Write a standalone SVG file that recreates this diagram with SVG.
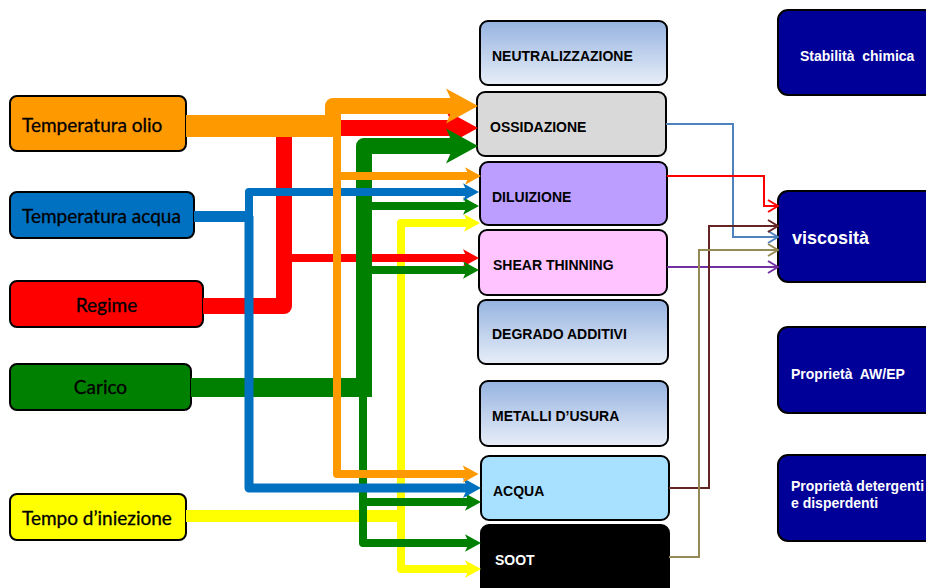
<svg xmlns="http://www.w3.org/2000/svg" width="926" height="588" viewBox="0 0 926 588">
<defs>
<linearGradient id="gBlue" x1="0" y1="0" x2="0" y2="1"><stop offset="0" stop-color="#95B3E0"/><stop offset="1" stop-color="#E8EEF8"/></linearGradient>
<marker id="aO" viewBox="0 -1.1 2 2.2" refX="0.6" refY="0" markerWidth="2" markerHeight="2.2" markerUnits="strokeWidth" orient="auto"><path d="M0,-1.1 L2,0 L0,1.1 L0.5,0 Z" fill="#FF9900"/></marker>
<marker id="aR" viewBox="0 -1.1 2 2.2" refX="0.6" refY="0" markerWidth="2" markerHeight="2.2" markerUnits="strokeWidth" orient="auto"><path d="M0,-1.1 L2,0 L0,1.1 L0.5,0 Z" fill="#FF0000"/></marker>
<marker id="aG" viewBox="0 -1.1 2 2.2" refX="0.6" refY="0" markerWidth="2" markerHeight="2.2" markerUnits="strokeWidth" orient="auto"><path d="M0,-1.1 L2,0 L0,1.1 L0.5,0 Z" fill="#008000"/></marker>
<marker id="aB" viewBox="0 -1.1 2 2.2" refX="0.6" refY="0" markerWidth="2" markerHeight="2.2" markerUnits="strokeWidth" orient="auto"><path d="M0,-1.1 L2,0 L0,1.1 L0.5,0 Z" fill="#0070C0"/></marker>
<marker id="aY" viewBox="0 -1.1 2 2.2" refX="0.6" refY="0" markerWidth="2" markerHeight="2.2" markerUnits="strokeWidth" orient="auto"><path d="M0,-1.1 L2,0 L0,1.1 L0.5,0 Z" fill="#FFFF00"/></marker>
<marker id="tB" viewBox="0 0 12 14" refX="11" refY="7" markerWidth="12" markerHeight="14" markerUnits="userSpaceOnUse" orient="auto"><path d="M1,1 L11,7 L1,13" fill="none" stroke="#4F81BD" stroke-width="2"/></marker>
<marker id="tR" viewBox="0 0 12 14" refX="11" refY="7" markerWidth="12" markerHeight="14" markerUnits="userSpaceOnUse" orient="auto"><path d="M1,1 L11,7 L1,13" fill="none" stroke="#FF0000" stroke-width="2"/></marker>
<marker id="tP" viewBox="0 0 12 14" refX="11" refY="7" markerWidth="12" markerHeight="14" markerUnits="userSpaceOnUse" orient="auto"><path d="M1,1 L11,7 L1,13" fill="none" stroke="#7030A0" stroke-width="2"/></marker>
<marker id="tM" viewBox="0 0 12 14" refX="11" refY="7" markerWidth="12" markerHeight="14" markerUnits="userSpaceOnUse" orient="auto"><path d="M1,1 L11,7 L1,13" fill="none" stroke="#632523" stroke-width="2"/></marker>
<marker id="tK" viewBox="0 0 12 14" refX="11" refY="7" markerWidth="12" markerHeight="14" markerUnits="userSpaceOnUse" orient="auto"><path d="M1,1 L11,7 L1,13" fill="none" stroke="#948A54" stroke-width="2"/></marker>
<style>
text{white-space:pre}
.src rect{stroke:#000;stroke-width:2}
.src text{font-family:Lato,"Open Sans",sans-serif;font-size:19px;fill:#000;stroke:#000;stroke-width:0.3}
.mid rect{stroke:#000;stroke-width:2}
.mid text{font-family:"Liberation Sans",Arial,sans-serif;font-weight:bold;font-size:14px;fill:#000}
.out rect{fill:#000099;stroke:#000;stroke-width:2}
.out text{font-family:"Liberation Sans",Arial,sans-serif;font-weight:bold;font-size:14px;fill:#fff}
.thick{fill:none;stroke-linejoin:round}
.thin{fill:none;stroke-width:2}
.o{stroke:#FF9900}.r{stroke:#FF0000}.g{stroke:#008000}.b{stroke:#0070C0}.y{stroke:#FFFF00}
</style>
</defs>

<g id="n-temp-olio" class="src"><rect x="10" y="96" width="176" height="55" rx="7" fill="#FF9900"/><text x="22" y="132">Temperatura olio</text></g>
<g id="n-temp-acqua" class="src"><rect x="10" y="192" width="184" height="46" rx="7" fill="#0070C0"/><text x="22" y="223">Temperatura acqua</text></g>
<g id="n-regime" class="src"><rect x="10" y="281" width="193" height="46" rx="7" fill="#FF0000"/><text x="106.5" y="312" text-anchor="middle">Regime</text></g>
<g id="n-carico" class="src"><rect x="10" y="364" width="181" height="46" rx="7" fill="#008000"/><text x="100.5" y="394" text-anchor="middle">Carico</text></g>
<g id="n-tempo" class="src"><rect x="10" y="494" width="176" height="46" rx="7" fill="#FFFF00"/><text x="22" y="525">Tempo d’iniezione</text></g>

<g id="n-neutral" class="mid"><rect x="480" y="21" width="187" height="64" rx="8" fill="url(#gBlue)"/><text x="492" y="61">NEUTRALIZZAZIONE</text></g>
<g id="n-ossid" class="mid"><rect x="477" y="92" width="189" height="64" rx="8" fill="#D9D9D9"/><text x="490" y="132">OSSIDAZIONE</text></g>
<g id="n-diluiz" class="mid"><rect x="480" y="162" width="187" height="63" rx="8" fill="#BB9EFF"/><text x="492" y="202">DILUIZIONE</text></g>
<g id="n-shear" class="mid"><rect x="479" y="230" width="188" height="65" rx="8" fill="#FFC4FF"/><text x="493" y="270">SHEAR THINNING</text></g>
<g id="n-degrado" class="mid"><rect x="478" y="300" width="190" height="64" rx="8" fill="url(#gBlue)"/><text x="492" y="339">DEGRADO ADDITIVI</text></g>
<g id="n-metalli" class="mid"><rect x="480" y="381" width="188" height="65" rx="8" fill="url(#gBlue)"/><text x="492" y="421">METALLI D’USURA</text></g>
<g id="n-acqua" class="mid"><rect x="481" y="456" width="188" height="64" rx="8" fill="#A8E0FF"/><text x="493" y="496">ACQUA</text></g>
<g id="n-soot" class="mid"><rect x="481" y="525" width="188" height="70" rx="8" fill="#000"/><text x="495" y="565" style="fill:#fff">SOOT</text></g>

<g id="n-stabilita" class="out"><rect x="778" y="10" width="160" height="85" rx="10"/><text x="800" y="61">Stabilità  chimica</text></g>
<g id="n-viscosita" class="out"><rect x="778" y="191" width="160" height="91" rx="10"/><text x="792" y="244" style="font-size:18px">viscosità</text></g>
<g id="n-awep" class="out"><rect x="778" y="327" width="160" height="86" rx="10"/><text x="791" y="379">Proprietà  AW/EP</text></g>
<g id="n-deterg" class="out"><rect x="778" y="455" width="160" height="86" rx="10"/><text x="791" y="491">Proprietà detergenti</text><text x="791" y="508">e disperdenti</text></g>

<g id="connectors">
<path class="thick y" d="M186,516 H405" stroke-width="12"/>
<path class="thick y" d="M401,516 V223 H468.8" stroke-width="8" marker-end="url(#aY)"/>
<path class="thick y" d="M401,516 V569 H469.8" stroke-width="8" marker-end="url(#aY)"/>
<path class="thick r" d="M203,306 H284 V128 H455.6" stroke-width="16" marker-end="url(#aR)"/>
<path class="thick r" d="M284,258 H467.8" stroke-width="8" marker-end="url(#aR)"/>
<path class="thick g" d="M191,387.5 H372" stroke-width="19"/>
<path class="thick g" d="M364,394 V146 H455.6" stroke-width="16" marker-end="url(#aG)"/>
<path class="thick g" d="M364,206 H467.8" stroke-width="8" marker-end="url(#aG)"/>
<path class="thick g" d="M364,270 H467.8" stroke-width="8" marker-end="url(#aG)"/>
<path class="thick g" d="M363,390 V543 H469.8" stroke-width="8" marker-end="url(#aG)"/>
<path class="thick g" d="M363,502 H469.8" stroke-width="8" marker-end="url(#aG)"/>
<path class="thick b" d="M194,216.5 H253" stroke-width="11"/>
<path class="thick b" d="M249,216 V192 H467.8" stroke-width="8" marker-end="url(#aB)"/>
<path class="thick b" d="M249,216 V488 H468.4" stroke-width="9" marker-end="url(#aB)"/>
<path class="thick o" d="M186,126 H341" stroke-width="22"/>
<path class="thick o" d="M333,126 V106 H455.6" stroke-width="16" marker-end="url(#aO)"/>
<path class="thick o" d="M337,130 V474 H467.4" stroke-width="8" marker-end="url(#aO)"/>
<path class="thick o" d="M337,176 H469.8" stroke-width="8" marker-end="url(#aO)"/>
<path class="thin" stroke="#4F81BD" d="M666,124 H733 V237 H778" marker-end="url(#tB)"/>
<path class="thin" stroke="#FF0000" d="M667,176 H764 V206 H778" marker-end="url(#tR)"/>
<path class="thin" stroke="#7030A0" d="M667,267 H778" marker-end="url(#tP)"/>
<path class="thin" stroke="#632523" d="M669,488 H709 V226 H778" marker-end="url(#tM)"/>
<path class="thin" stroke="#948A54" d="M669,557 H699 V250 H778" marker-end="url(#tK)"/>
</g>
</svg>
